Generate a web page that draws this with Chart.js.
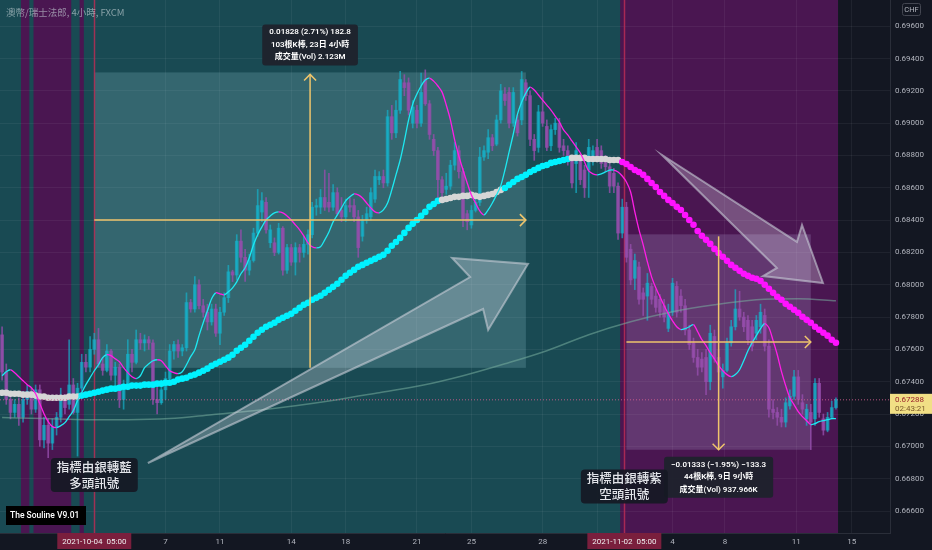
<!DOCTYPE html>
<html><head><meta charset="utf-8">
<script src="https://cdn.jsdelivr.net/npm/chart.js@4.4.0/dist/chart.umd.min.js"></script>
<style>html,body{margin:0;padding:0;background:#131722;}#wrap{width:932px;height:550px;}</style>
</head><body><div id="wrap"><canvas id="c" width="932" height="550"></canvas></div>
<script>
// ---------- DATA (AUD/CHF 4h, FXCM) ----------
const opens = [
0.6769,0.6746,0.6729,0.6721,0.6726,0.6718,0.6729,0.6734,0.6723,0.6735,
0.6704,0.6713,0.6702,0.6712,0.6718,0.6729,0.6726,0.6738,0.6721,0.6736,
0.6752,0.6749,0.6760,0.6766,0.6751,0.6747,0.6759,0.6744,0.6749,0.6729,
0.6738,0.6757,0.6752,0.6766,0.6764,0.6766,0.6764,0.6729,0.6727,0.6735,
0.6742,0.6759,0.6763,0.6759,0.6761,0.6789,0.6785,0.6800,0.6787,0.6783,
0.6777,0.6785,0.6770,0.6783,0.6792,0.6808,0.6806,0.6827,0.6817,0.6809,
0.6815,0.6832,0.6845,0.6851,0.6826,0.6826,0.6820,0.6835,0.6809,0.6823,
0.6814,0.6823,0.6820,0.6825,0.6831,0.6848,0.6848,0.6854,0.6851,0.6848,
0.6857,0.6846,0.6842,0.6849,0.6849,0.6842,0.6830,0.6840,0.6842,0.6853,
0.6865,0.6867,0.6863,0.6904,0.6894,0.6908,0.6925,0.6925,0.6900,0.6908,
0.6900,0.6927,0.6912,0.6890,0.6883,0.6865,0.6859,0.6861,0.6874,0.6883,
0.6870,0.6844,0.6837,0.6846,0.6851,0.6879,0.6882,0.6891,0.6887,0.6902,
0.6918,0.6919,0.6900,0.6902,0.6902,0.6925,0.6917,0.6890,0.6885,0.6907,
0.6898,0.6886,0.6896,0.6900,0.6886,0.6883,0.6877,0.6875,0.6877,0.6871,
0.6871,0.6877,0.6885,0.6883,0.6877,0.6873,0.6869,0.6861,0.6832,0.6848,
0.6822,0.6804,0.6811,0.6795,0.6793,0.6799,0.6793,0.6791,0.6787,0.6773,
0.6783,0.6799,0.6793,0.6787,0.6772,0.6764,0.6755,0.6754,0.6755,0.6740,
0.6768,0.6755,0.6743,0.6747,0.6764,0.6774,0.6785,0.6780,0.6778,0.6774,
0.6770,0.6774,0.6781,0.6762,0.6723,0.6721,0.6718,0.6715,0.6725,0.6731,
0.6743,0.6727,0.6717,0.6721,0.6717,0.6739,0.6717,0.6710,0.6718,0.6724];
const highs = [
0.6774,0.6751,0.6732,0.6729,0.6730,0.6734,0.6738,0.6736,0.6738,0.6738,
0.6718,0.6717,0.6717,0.6721,0.6736,0.6732,0.6766,0.6742,0.6739,0.6757,
0.6757,0.6768,0.6770,0.6773,0.6755,0.6763,0.6760,0.6752,0.6751,0.6741,
0.6766,0.6760,0.6772,0.6770,0.6769,0.6768,0.6766,0.6739,0.6741,0.6746,
0.6763,0.6765,0.6766,0.6763,0.6795,0.6791,0.6805,0.6803,0.6791,0.6788,
0.6788,0.6788,0.6786,0.6795,0.6812,0.6809,0.6831,0.6834,0.6822,0.6819,
0.6835,0.6859,0.6857,0.6854,0.6837,0.6829,0.6838,0.6836,0.6825,0.6825,
0.6826,0.6825,0.6830,0.6834,0.6851,0.6853,0.6859,0.6871,0.6869,0.6862,
0.6860,0.6854,0.6853,0.6854,0.6853,0.6846,0.6843,0.6848,0.6860,0.6871,
0.6870,0.6871,0.6908,0.6911,0.6914,0.6932,0.6930,0.6928,0.6914,0.6911,
0.6931,0.6933,0.6914,0.6893,0.6885,0.6867,0.6869,0.6877,0.6888,0.6886,
0.6872,0.6846,0.6849,0.6854,0.6885,0.6886,0.6896,0.6893,0.6905,0.6924,
0.6922,0.6922,0.6922,0.6905,0.6932,0.6927,0.6920,0.6893,0.6911,0.6919,
0.6902,0.6899,0.6903,0.6903,0.6890,0.6886,0.6880,0.6888,0.6880,0.6874,
0.6890,0.6886,0.6890,0.6886,0.6880,0.6877,0.6872,0.6863,0.6853,0.6851,
0.6825,0.6819,0.6814,0.6798,0.6807,0.6801,0.6797,0.6794,0.6791,0.6788,
0.6804,0.6802,0.6797,0.6791,0.6775,0.6767,0.6760,0.6758,0.6760,0.6775,
0.6772,0.6760,0.6751,0.6767,0.6778,0.6797,0.6796,0.6783,0.6781,0.6778,
0.6781,0.6788,0.6785,0.6766,0.6729,0.6724,0.6723,0.6730,0.6735,0.6747,
0.6747,0.6732,0.6726,0.6726,0.6742,0.6742,0.6720,0.6721,0.6728,0.6730];
const lows = [
0.6741,0.6726,0.6717,0.6718,0.6713,0.6715,0.6726,0.6720,0.6721,0.6700,
0.6699,0.6693,0.6698,0.6707,0.6715,0.6720,0.6723,0.6720,0.6694,0.6734,
0.6746,0.6746,0.6757,0.6749,0.6744,0.6746,0.6741,0.6738,0.6724,0.6723,
0.6735,0.6746,0.6751,0.6760,0.6759,0.6760,0.6726,0.6720,0.6726,0.6729,
0.6740,0.6754,0.6755,0.6756,0.6759,0.6783,0.6783,0.6785,0.6780,0.6772,
0.6775,0.6768,0.6763,0.6781,0.6789,0.6802,0.6803,0.6814,0.6802,0.6806,
0.6814,0.6830,0.6839,0.6832,0.6823,0.6818,0.6819,0.6806,0.6807,0.6812,
0.6806,0.6814,0.6817,0.6819,0.6829,0.6843,0.6844,0.6846,0.6845,0.6846,
0.6843,0.6839,0.6839,0.6845,0.6839,0.6817,0.6827,0.6838,0.6840,0.6851,
0.6862,0.6860,0.6861,0.6890,0.6891,0.6906,0.6917,0.6905,0.6897,0.6897,
0.6898,0.6911,0.6890,0.6880,0.6854,0.6854,0.6856,0.6859,0.6871,0.6866,
0.6836,0.6834,0.6835,0.6845,0.6849,0.6877,0.6878,0.6883,0.6886,0.6900,
0.6911,0.6897,0.6898,0.6892,0.6899,0.6914,0.6886,0.6877,0.6882,0.6898,
0.6883,0.6883,0.6893,0.6882,0.6880,0.6874,0.6860,0.6857,0.6862,0.6854,
0.6854,0.6874,0.6876,0.6872,0.6870,0.6857,0.6857,0.6828,0.6829,0.6814,
0.6800,0.6797,0.6788,0.6781,0.6778,0.6788,0.6783,0.6780,0.6777,0.6771,
0.6781,0.6780,0.6783,0.6769,0.6760,0.6752,0.6744,0.6746,0.6732,0.6735,
0.6752,0.6741,0.6736,0.6746,0.6762,0.6772,0.6778,0.6771,0.6763,0.6759,
0.6766,0.6770,0.6759,0.6718,0.6717,0.6713,0.6712,0.6712,0.6723,0.6729,
0.6726,0.6720,0.6713,0.6698,0.6713,0.6718,0.6707,0.6709,0.6717,0.6723];
const closes = [
0.6746,0.6729,0.6721,0.6726,0.6718,0.6729,0.6734,0.6723,0.6735,0.6704,
0.6713,0.6702,0.6712,0.6718,0.6729,0.6724,0.6738,0.6721,0.6736,0.6752,
0.6749,0.6760,0.6766,0.6751,0.6747,0.6759,0.6744,0.6749,0.6729,0.6738,
0.6757,0.6752,0.6766,0.6764,0.6766,0.6764,0.6729,0.6727,0.6735,0.6742,
0.6759,0.6763,0.6759,0.6761,0.6789,0.6785,0.6800,0.6787,0.6783,0.6777,
0.6785,0.6770,0.6783,0.6792,0.6808,0.6806,0.6827,0.6817,0.6809,0.6815,
0.6832,0.6849,0.6852,0.6834,0.6834,0.6820,0.6835,0.6809,0.6823,0.6814,
0.6823,0.6820,0.6825,0.6831,0.6848,0.6849,0.6854,0.6848,0.6848,0.6857,
0.6844,0.6842,0.6849,0.6848,0.6842,0.6823,0.6840,0.6844,0.6857,0.6867,
0.6867,0.6863,0.6904,0.6894,0.6908,0.6927,0.6922,0.6908,0.6910,0.6900,
0.6919,0.6912,0.6893,0.6883,0.6865,0.6857,0.6861,0.6874,0.6883,0.6870,
0.6841,0.6839,0.6846,0.6851,0.6879,0.6883,0.6891,0.6886,0.6902,0.6920,
0.6914,0.6900,0.6919,0.6894,0.6927,0.6917,0.6890,0.6883,0.6907,0.6900,
0.6885,0.6896,0.6900,0.6885,0.6883,0.6877,0.6863,0.6883,0.6865,0.6860,
0.6885,0.6883,0.6879,0.6875,0.6873,0.6861,0.6861,0.6832,0.6848,0.6817,
0.6803,0.6815,0.6791,0.6791,0.6801,0.6791,0.6786,0.6783,0.6780,0.6783,
0.6801,0.6783,0.6787,0.6772,0.6763,0.6755,0.6749,0.6749,0.6740,0.6770,
0.6754,0.6746,0.6747,0.6764,0.6774,0.6785,0.6780,0.6774,0.6766,0.6762,
0.6778,0.6783,0.6762,0.6723,0.6721,0.6718,0.6715,0.6727,0.6731,0.6743,
0.6729,0.6723,0.6723,0.6715,0.6739,0.6721,0.6710,0.6718,0.6724,0.6729];
// thick dotted trend indicator (The Souline)
const trendLine = [
0.67332,0.67332,0.67326,0.67326,0.67326,0.67320,0.67320,0.67320,0.67314,0.67308,
0.67308,0.67301,0.67301,0.67301,0.67301,0.67301,0.67308,0.67308,0.67308,0.67314,
0.67320,0.67326,0.67332,0.67338,0.67345,0.67351,0.67357,0.67357,0.67363,0.67369,
0.67369,0.67376,0.67376,0.67376,0.67382,0.67382,0.67382,0.67388,0.67388,0.67394,
0.67394,0.67400,0.67413,0.67419,0.67425,0.67437,0.67444,0.67456,0.67468,0.67481,
0.67499,0.67511,0.67524,0.67536,0.67549,0.67567,0.67592,0.67610,0.67629,0.67654,
0.67678,0.67703,0.67722,0.67740,0.67753,0.67765,0.67783,0.67796,0.67808,0.67820,
0.67839,0.67858,0.67876,0.67888,0.67907,0.67919,0.67932,0.67950,0.67969,0.67987,
0.68006,0.68031,0.68055,0.68074,0.68092,0.68111,0.68123,0.68136,0.68148,0.68160,
0.68173,0.68185,0.68210,0.68241,0.68265,0.68290,0.68321,0.68352,0.68377,0.68401,
0.68426,0.68451,0.68482,0.68500,0.68519,0.68525,0.68531,0.68537,0.68544,0.68544,
0.68550,0.68550,0.68556,0.68550,0.68544,0.68550,0.68556,0.68562,0.68574,0.68587,
0.68599,0.68618,0.68636,0.68655,0.68667,0.68680,0.68698,0.68710,0.68723,0.68735,
0.68741,0.68754,0.68760,0.68766,0.68772,0.68778,0.68785,0.68785,0.68785,0.68785,
0.68778,0.68778,0.68778,0.68778,0.68778,0.68772,0.68772,0.68772,0.68760,0.68747,
0.68729,0.68710,0.68698,0.68680,0.68655,0.68630,0.68605,0.68574,0.68550,0.68525,
0.68506,0.68482,0.68463,0.68432,0.68401,0.68371,0.68333,0.68303,0.68278,0.68253,
0.68222,0.68197,0.68173,0.68148,0.68123,0.68105,0.68086,0.68068,0.68055,0.68043,
0.68037,0.68024,0.68000,0.67975,0.67950,0.67926,0.67907,0.67882,0.67864,0.67845,
0.67827,0.67802,0.67783,0.67765,0.67740,0.67722,0.67703,0.67685,0.67660,0.67641];
// indicator state of the thick line: s = silver, b = blue, p = purple (last bar of each phase)
const trendPhaseEnd = [18, 104, 119, 135, 147, 199];
const trendPhaseState = ['s', 'b', 's', 'b', 's', 'p'];
// thin fast line
const fastLine = [
0.67437,0.67462,0.67474,0.67456,0.67431,0.67406,0.67382,0.67363,0.67326,0.67264,
0.67202,0.67153,0.67122,0.67116,0.67128,0.67147,0.67184,0.67221,0.67283,0.67332,
0.67382,0.67425,0.67468,0.67505,0.67549,0.67567,0.67561,0.67542,0.67524,0.67487,
0.67456,0.67431,0.67419,0.67437,0.67487,0.67511,0.67530,0.67536,0.67530,0.67499,
0.67468,0.67456,0.67450,0.67462,0.67505,0.67555,0.67598,0.67685,0.67765,0.67839,
0.67913,0.67950,0.67944,0.67938,0.67956,0.67981,0.68018,0.68068,0.68105,0.68167,
0.68247,0.68309,0.68358,0.68401,0.68426,0.68445,0.68451,0.68445,0.68426,0.68401,
0.68371,0.68340,0.68303,0.68259,0.68235,0.68228,0.68235,0.68278,0.68327,0.68389,
0.68432,0.68476,0.68519,0.68544,0.68562,0.68556,0.68537,0.68506,0.68476,0.68451,
0.68445,0.68463,0.68506,0.68587,0.68680,0.68772,0.68890,0.69019,0.69118,0.69180,
0.69230,0.69267,0.69279,0.69260,0.69230,0.69192,0.69112,0.69019,0.68896,0.68797,
0.68710,0.68630,0.68556,0.68506,0.68457,0.68432,0.68463,0.68506,0.68556,0.68612,
0.68710,0.68822,0.68933,0.69056,0.69131,0.69186,0.69223,0.69205,0.69174,0.69143,
0.69112,0.69081,0.69044,0.69007,0.68958,0.68927,0.68890,0.68853,0.68815,0.68760,
0.68704,0.68686,0.68680,0.68686,0.68698,0.68710,0.68710,0.68698,0.68673,0.68636,
0.68574,0.68451,0.68340,0.68247,0.68142,0.68049,0.67981,0.67926,0.67870,0.67820,
0.67777,0.67740,0.67722,0.67728,0.67740,0.67753,0.67709,0.67660,0.67623,0.67579,
0.67542,0.67499,0.67468,0.67444,0.67431,0.67444,0.67474,0.67530,0.67592,0.67641,
0.67685,0.67728,0.67759,0.67734,0.67654,0.67567,0.67462,0.67376,0.67301,0.67258,
0.67215,0.67184,0.67159,0.67135,0.67141,0.67153,0.67159,0.67165,0.67172,0.67172];
// slow moving average (read every 10 bars)
const slowBars = [0,10,20,30,40,50,60,70,80,90,100,110,120,130,140,150,160,170,180,190,199];
const slowVals = [0.67178,0.67172,0.67165,0.67165,0.67172,0.67196,0.67221,0.67252,0.67289,0.67332,
  0.67376,0.67437,0.67511,0.67592,0.67691,0.67771,0.67833,0.67876,0.67907,0.67913,0.67901];
// bearish background zones (bar index ranges)
const bearZones = [[5, 6], [8, 16], [19, 19], [148, 199]];
// axis ticks
const yTicks = [0.666,0.668,0.670,0.672,0.674,0.676,0.678,0.680,0.682,0.684,0.686,0.688,0.690,0.692,0.694,0.696];
const dayTickBars = [39, 52, 69, 82, 99, 112, 129, 142, 160, 172.5, 189.5, 202.8];
const dayTickLabels = ['7', '11', '14', '18', '21', '25', '28', '', '4', '8', '11', '15'];
const cursorBars = [22, 148.5];
const cursorLabels = ['2021-10-04  05:00', '2021-11-02  05:00'];
const lastPrice = 0.67288, countdown = '02:43:21';
// measurement tools
const measure1 = {from: 22, to: 125, low: 0.67486, high: 0.69314,
  text: ['0.01828 (2.71%) 182.8', '103根K棒, 23日 4小時', '成交量(Vol) 2.123M']};
const measure2 = {from: 149, to: 193, low: 0.66979, high: 0.68312,
  text: ['\u22120.01333 (\u22121.95%) \u2212133.3', '44根K棒, 9日 9小時', '成交量(Vol) 937.966K']};
// drawn arrows (bar, price)
const arrowUp = [[34.8,0.66897],[111.7,0.68048],[107.4,0.68166],[125.5,0.68129],[116.0,0.67720],[114.8,0.67850]];
const arrowDown = [[157.5,0.68803],[189.7,0.68265],[190.9,0.68370],[195.9,0.68011],[181.6,0.68054],[184.9,0.68104]];
// signal callouts (bar, price, lines)
const callouts = [
  {bar: 22, price: 0.66823, lines: ['指標由銀轉藍', '多頭訊號']},
  {bar: 148.5, price: 0.66752, lines: ['指標由銀轉紫', '空頭訊號']}];
const TITLE = '澳幣/瑞士法郎, 4小時, FXCM';

// ---------- STYLES ----------
const C_BULL = 'rgba(20,180,205,0.68)', C_BEAR = 'rgba(150,78,172,0.8)';
const DOT = {s: '#d6d6d6', b: '#00f2ff', p: '#ff12ff'};
const FONT = 'Roboto, "Noto Sans CJK TC", sans-serif';
Chart.defaults.font.family = FONT;

function trendState(i) { for (let k = 0; k < trendPhaseEnd.length; k++) if (i <= trendPhaseEnd[k]) return trendPhaseState[k]; return 'p'; }
function rr(ctx, x, y, w, h, r) {
  ctx.beginPath(); ctx.moveTo(x + r, y); ctx.lineTo(x + w - r, y); ctx.quadraticCurveTo(x + w, y, x + w, y + r);
  ctx.lineTo(x + w, y + h - r); ctx.quadraticCurveTo(x + w, y + h, x + w - r, y + h); ctx.lineTo(x + r, y + h);
  ctx.quadraticCurveTo(x, y + h, x, y + h - r); ctx.lineTo(x, y + r); ctx.quadraticCurveTo(x, y, x + r, y); ctx.closePath();
}
function noPad(s) { s.paddingTop = 0; s.paddingBottom = 0; s.paddingLeft = 0; s.paddingRight = 0; }

const decor = {
  id: 'decor',
  beforeDraw(chart) {
    const {ctx, chartArea: a, scales: {x}} = chart;
    ctx.save();
    ctx.fillStyle = '#131722'; ctx.fillRect(0, 0, chart.width, chart.height);
    const xEnd = x.getPixelForValue(closes.length - 0.5);
    ctx.fillStyle = '#194a53'; ctx.fillRect(a.left, a.top, xEnd - a.left, a.bottom - a.top);
    ctx.fillStyle = '#4a1651';
    for (const [s, e] of bearZones) {
      const x0 = x.getPixelForValue(s - 0.5), x1 = x.getPixelForValue(e + 0.5);
      ctx.fillRect(x0, a.top, x1 - x0, a.bottom - a.top);
    }
    ctx.restore();
  },
  beforeDatasetsDraw(chart) {
    const {ctx, chartArea: a, scales: {x, y}} = chart;
    ctx.save();
    const boxes = [[measure1, 'rgba(150,205,215,0.22)'], [measure2, 'rgba(170,150,200,0.26)']];
    for (const [m, col] of boxes) {
      const x0 = x.getPixelForValue(m.from), x1 = x.getPixelForValue(m.to);
      const y0 = y.getPixelForValue(m.high), y1 = y.getPixelForValue(m.low);
      ctx.fillStyle = col; ctx.fillRect(x0, y0, x1 - x0, y1 - y0);
    }
    ctx.strokeStyle = 'rgba(185,45,85,0.85)'; ctx.lineWidth = 1.5;
    for (const b of cursorBars) {
      const px = Math.round(x.getPixelForValue(b)) + 0.5;
      ctx.beginPath(); ctx.moveTo(px, a.top); ctx.lineTo(px, a.bottom); ctx.stroke();
    }
    ctx.restore();
  },
  afterDatasetsDraw(chart) {
    const {ctx, chartArea: a, scales: {x, y}} = chart;
    ctx.save();
    const py = y.getPixelForValue(lastPrice);
    ctx.strokeStyle = 'rgba(215,95,145,0.85)'; ctx.lineWidth = 1; ctx.setLineDash([1, 2]);
    ctx.beginPath(); ctx.moveTo(a.left, py); ctx.lineTo(a.right, py); ctx.stroke();
    ctx.setLineDash([]);
    for (const arr of [arrowUp, arrowDown]) {
      ctx.beginPath();
      arr.forEach(([b, v], k) => { const X = x.getPixelForValue(b), Y = y.getPixelForValue(v); k ? ctx.lineTo(X, Y) : ctx.moveTo(X, Y); });
      ctx.closePath();
      ctx.fillStyle = 'rgba(235,235,245,0.28)'; ctx.fill();
      ctx.strokeStyle = 'rgba(200,205,215,0.6)'; ctx.lineWidth = 2; ctx.lineJoin = 'miter'; ctx.stroke();
    }
    ctx.strokeStyle = '#efc56c'; ctx.lineWidth = 1.5;
    const crossFor = (m, up) => {
      const x0 = x.getPixelForValue(m.from), x1 = x.getPixelForValue(m.to);
      const y0 = y.getPixelForValue(m.high), y1 = y.getPixelForValue(m.low);
      const cx = (x0 + x1) / 2, cy = (y0 + y1) / 2;
      ctx.beginPath(); ctx.moveTo(cx, y0 + 2); ctx.lineTo(cx, y1); ctx.stroke();
      ctx.beginPath(); ctx.moveTo(x0, cy); ctx.lineTo(x1, cy); ctx.stroke();
      ctx.beginPath(); ctx.moveTo(x1 - 6, cy - 6); ctx.lineTo(x1, cy); ctx.lineTo(x1 - 6, cy + 6); ctx.stroke();
      ctx.beginPath();
      if (up) { ctx.moveTo(cx - 6, y0 + 8); ctx.lineTo(cx, y0 + 2); ctx.lineTo(cx + 6, y0 + 8); }
      else { ctx.moveTo(cx - 6, y1 - 6); ctx.lineTo(cx, y1); ctx.lineTo(cx + 6, y1 - 6); }
      ctx.stroke();
      return {cx, y0, y1};
    };
    const c1 = crossFor(measure1, true), c2 = crossFor(measure2, false);
    const info = (lines, cx, top) => {
      ctx.font = '600 8px ' + FONT;
      const w = Math.max(...lines.map(t => ctx.measureText(t).width)) + 14, h = 41;
      ctx.fillStyle = 'rgba(30,34,45,0.96)'; rr(ctx, cx - w / 2, top, w, h, 3); ctx.fill();
      ctx.fillStyle = '#ffffff'; ctx.textAlign = 'center'; ctx.textBaseline = 'middle';
      lines.forEach((t, k) => ctx.fillText(t, cx, top + 8 + k * 12.5));
    };
    info(measure1.text, c1.cx, c1.y0 - 48);
    info(measure2.text, c2.cx, c2.y1 + 7);
    for (const co of callouts) {
      const cx = x.getPixelForValue(co.bar), cy = y.getPixelForValue(co.price);
      ctx.font = '500 12.5px "Noto Sans CJK TC", sans-serif';
      const w = Math.max(...co.lines.map(t => ctx.measureText(t).width)) + 12, h = 34;
      ctx.fillStyle = 'rgba(22,25,36,0.93)'; rr(ctx, cx - w / 2, cy - h / 2, w, h, 4); ctx.fill();
      ctx.fillStyle = '#e3e5ea'; ctx.textAlign = 'center'; ctx.textBaseline = 'middle';
      co.lines.forEach((t, k) => ctx.fillText(t, cx, cy - 8 + k * 16));
    }
    ctx.restore();
  },
  afterDraw(chart) {
    const {ctx, chartArea: a, scales: {x, y}} = chart;
    ctx.save();
    ctx.font = '9.5px "Noto Sans CJK TC", sans-serif'; ctx.fillStyle = 'rgba(200,212,216,0.62)';
    ctx.textAlign = 'left'; ctx.textBaseline = 'middle'; ctx.fillText(TITLE, 6, 12);
    ctx.fillStyle = '#000'; ctx.fillRect(a.left + 6, a.bottom - 27, 80, 19);
    ctx.font = '500 8.5px Roboto, sans-serif'; ctx.fillStyle = '#fff'; ctx.fillText('The Souline V9.01', a.left + 10, a.bottom - 17);
    ctx.font = '8px ' + FONT; ctx.textAlign = 'center';
    cursorBars.forEach((b, k) => {
      const px = x.getPixelForValue(b);
      ctx.fillStyle = '#7a1f3d'; ctx.fillRect(px - 37, a.bottom, 74, 16);
      ctx.fillStyle = '#f0f0f0'; ctx.fillText(cursorLabels[k], px, a.bottom + 9);
    });
    const py = y.getPixelForValue(lastPrice);
    ctx.fillStyle = '#f1df85'; ctx.fillRect(a.right, py - 6, chart.width - a.right, 20);
    ctx.textAlign = 'left'; ctx.font = '8px ' + FONT;
    ctx.fillStyle = '#9a1f2a'; ctx.fillText(lastPrice.toFixed(5), a.right + 5, py);
    ctx.fillStyle = '#7a5a2a'; ctx.fillText(countdown, a.right + 5, py + 9);
    ctx.strokeStyle = '#434651'; ctx.lineWidth = 1; rr(ctx, a.right + 12.5, 3.5, 18, 12, 2); ctx.stroke();
    ctx.fillStyle = '#b2b5be'; ctx.font = '7.5px ' + FONT; ctx.textAlign = 'center'; ctx.fillText('CHF', a.right + 21.5, 10);
    ctx.restore();
  }
};

const idx = closes.map((_, i) => i);
new Chart(document.getElementById('c'), {
  type: 'bar',
  data: {
    datasets: [
      {type: 'line', data: fastLine.map((v, i) => ({x: i, y: v})), borderWidth: 1.3, pointRadius: 0, tension: 0.3, order: 1,
       borderColor: '#1de9f2', clip: false,
       segment: {borderColor: c => c.p1.parsed.y < c.p0.parsed.y ? '#ff1ee6' : '#1de9f2'}},
      {type: 'line', data: trendLine.map((v, i) => ({x: i, y: v})), showLine: false, order: 2,
       pointRadius: 3.3, pointBorderWidth: 0, pointStyle: 'circle',
       pointBackgroundColor: c => DOT[trendState(c.dataIndex)]},
      {type: 'line', data: slowBars.map((b, k) => ({x: b, y: slowVals[k]})), borderColor: 'rgba(120,175,158,0.55)',
       borderWidth: 1.5, pointRadius: 0, tension: 0.4, cubicInterpolationMode: 'monotone', order: 8},
      {type: 'bar', data: idx.map(i => ({x: i, y: [opens[i], closes[i]]})), barThickness: 3, minBarLength: 1, grouped: false, order: 9,
       backgroundColor: c => closes[c.dataIndex] >= opens[c.dataIndex] ? C_BULL : C_BEAR, borderWidth: 0},
      {type: 'bar', data: idx.map(i => ({x: i, y: [lows[i], highs[i]]})), barThickness: 1, grouped: false, order: 10,
       backgroundColor: c => closes[c.dataIndex] >= opens[c.dataIndex] ? C_BULL : C_BEAR, borderWidth: 0}
    ]
  },
  options: {
    responsive: false, animation: false, events: [],
    layout: {padding: 0, autoPadding: false},
    plugins: {legend: {display: false}, tooltip: {enabled: false}},
    scales: {
      x: {type: 'linear', min: -0.5, max: 211.9, offset: false, position: 'bottom',
          grid: {color: 'rgba(255,255,255,0.055)', drawTicks: false, offset: false},
          border: {color: '#2a2e39'},
          ticks: {color: '#b2b5be', font: {size: 8}, padding: 4, maxRotation: 0, autoSkip: false,
                  callback: v => { const k = dayTickBars.indexOf(v); return k >= 0 ? dayTickLabels[k] : ''; }},
          afterBuildTicks: s => { s.ticks = dayTickBars.map(v => ({value: v})); },
          afterFit: s => { s.height = 17; noPad(s); }},
      y: {type: 'linear', position: 'right', min: 0.664639, max: 0.697621,
          grid: {color: 'rgba(255,255,255,0.055)', drawTicks: false},
          border: {color: '#2a2e39'},
          ticks: {color: '#b2b5be', font: {size: 8}, padding: 5, callback: v => v.toFixed(5)},
          afterBuildTicks: s => { s.ticks = yTicks.map(v => ({value: v})); },
          afterFit: s => { s.width = 42; noPad(s); }}
    }
  },
  plugins: [decor]
});
</script></body></html>
